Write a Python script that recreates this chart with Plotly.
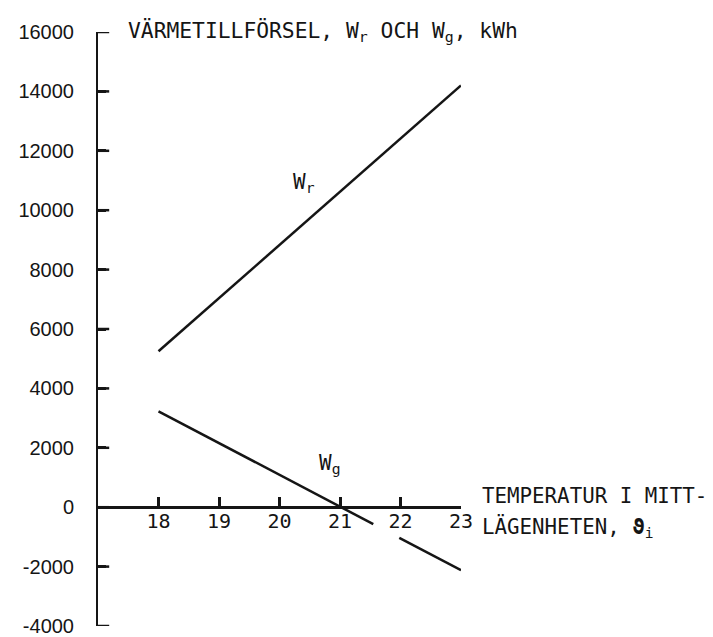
import plotly.graph_objects as go

# ---- data ----
temp_r = [18, 23]
w_r = [5250, 14200]

# W_g is drawn with a break where the "22" label sits
temp_g = [18, 21.55, None, 21.98, 23]
w_g = [3230, -570, None, -1030, -2120]

x_range = [17, 23]
x_ticks = [18, 19, 20, 21, 22, 23]
x_tick_labels = ["18", "19", "20", "21", "22", "23"]
y_range = [-4000, 16000]
y_ticks = [-4000, -2000, 0, 2000, 4000, 6000, 8000, 10000, 12000, 14000, 16000]
y_tick_labels = ["-4000", "-2000", "0", "2000", "4000", "6000", "8000",
                 "10000", "12000", "14000", "16000"]

title_text = "VÄRMETILLFÖRSEL, W<sub>r</sub> OCH W<sub>g</sub>, kWh"
xlabel_line1 = "TEMPERATUR I MITT-"
xlabel_line2 = "LÄGENHETEN, <b>ϑ</b><sub>i</sub>"

INK = "#151515"
MONO = "DejaVu Sans Mono, Liberation Mono, monospace"
SANS = "Liberation Sans, Arial, sans-serif"

fig = go.Figure()
fig.add_trace(go.Scatter(x=temp_r, y=w_r, mode="lines",
                         line=dict(color=INK, width=2.5), showlegend=False,
                         hoverinfo="skip"))
fig.add_trace(go.Scatter(x=temp_g, y=w_g, mode="lines", connectgaps=False,
                         line=dict(color=INK, width=2.5), showlegend=False,
                         hoverinfo="skip"))
# inward y tick marks (half of each dash is clipped by the plot edge)
fig.add_trace(go.Scatter(x=[x_range[0]] * len(y_ticks), y=y_ticks, mode="markers",
                         marker=dict(symbol="line-ew", size=16,
                                     line=dict(width=2.5, color=INK)),
                         cliponaxis=True, showlegend=False, hoverinfo="skip"))

zero_frac = (0 - y_range[0]) / (y_range[1] - y_range[0])

fig.update_layout(
    width=713, height=637,
    margin=dict(l=98, r=252, t=32, b=11, autoexpand=False),
    paper_bgcolor="white", plot_bgcolor="white",
    xaxis=dict(range=x_range, showgrid=False, zeroline=False,
               showline=True, linewidth=3, linecolor=INK,
               ticks="inside", ticklen=9, tickwidth=3, tickcolor=INK,
               tickvals=x_ticks, ticktext=x_tick_labels,
               ticklabelstandoff=-5, automargin=False,
               tickfont=dict(family=MONO, size=20, color=INK),
               anchor="free", position=zero_frac),
    yaxis=dict(range=y_range, showgrid=False, zeroline=False,
               showline=True, linewidth=2, linecolor=INK,
               ticks="inside", ticklen=8, tickwidth=2.5, tickcolor=INK,
               tickvals=y_ticks, ticktext=y_tick_labels,
               ticklabelstandoff=18, ticklabeloverflow="allow",
               automargin=False,
               tickfont=dict(family=SANS, size=20, color=INK)),
)

fig.add_annotation(x=17.47, y=16000, xref="x", yref="y", text=title_text,
                   showarrow=False, xanchor="left", yanchor="middle",
                   font=dict(family=MONO, size=21.3, color=INK))
fig.add_annotation(x=1.052, y=0.219, xref="paper", yref="paper", text=xlabel_line1,
                   showarrow=False, xanchor="left", yanchor="middle",
                   font=dict(family=MONO, size=20.8, color=INK))
fig.add_annotation(x=1.052, y=0.166, xref="paper", yref="paper", text=xlabel_line2,
                   showarrow=False, xanchor="left", yanchor="middle",
                   font=dict(family=MONO, size=20.8, color=INK))
fig.add_annotation(x=20.41, y=10900, xref="x", yref="y", text="W<sub>r</sub>",
                   showarrow=False, font=dict(family=MONO, size=21, color=INK))
fig.add_annotation(x=20.83, y=1450, xref="x", yref="y", text="W<sub>g</sub>",
                   showarrow=False, font=dict(family=MONO, size=21, color=INK))

# the figure fills the whole window: drop the default page margin
fig.write_html(
    "out.html",
    config={"displayModeBar": False},
    post_script="document.body.style.margin='0';"
                "document.body.style.overflow='hidden';"
                "document.documentElement.style.overflow='hidden';",
)
